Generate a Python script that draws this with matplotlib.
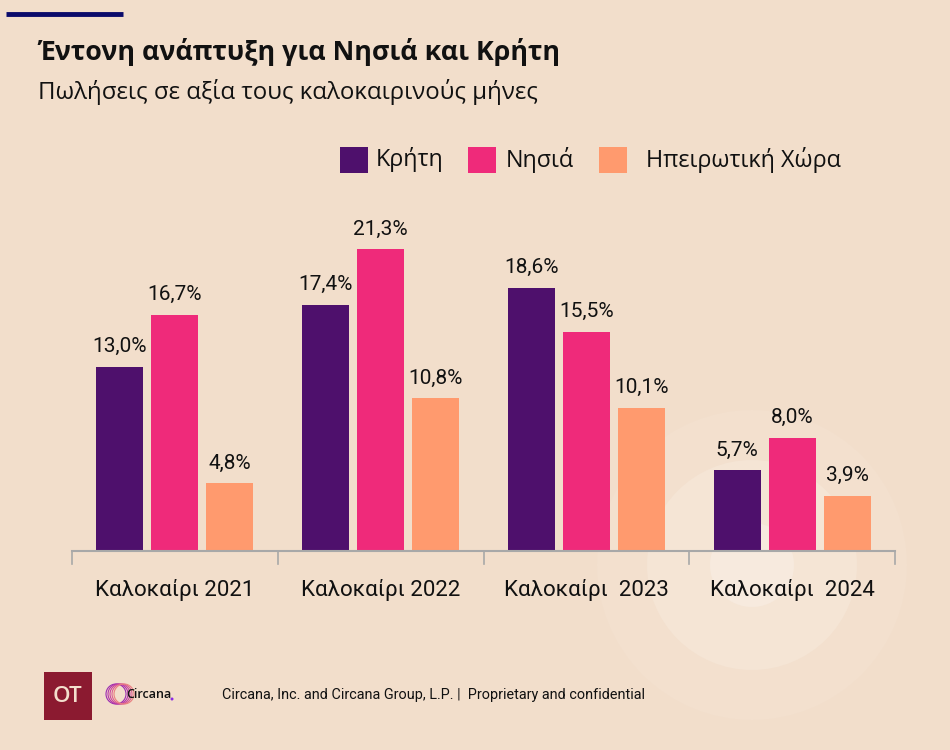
import numpy as np
import matplotlib.pyplot as plt
from matplotlib.patches import Rectangle, Circle

categories = ['Καλοκαίρι 2021', 'Καλοκαίρι 2022', 'Καλοκαίρι  2023', 'Καλοκαίρι  2024']
series = ['Κρήτη', 'Νησιά', 'Ηπειρωτική Χώρα']
kriti = [13.0, 17.4, 18.6, 5.7]
nisia = [16.7, 21.3, 15.5, 8.0]
ipeiros = [4.8, 10.8, 10.1, 3.9]
colors = ['#4E106C', '#EF2A7A', '#FF9A6E']

bg = '#F2DECB'
fig = plt.figure(figsize=(9.5, 7.5), dpi=100)
fig.patch.set_facecolor(bg)

# background layer in pixel coords (decor, header, legend, footer)
bgax = fig.add_axes([0, 0, 1, 1], zorder=0)
bgax.set_xlim(0, 950)
bgax.set_ylim(750, 0)
bgax.axis('off')

# faint decorative circles bottom right
for r, c in [(155, '#F3E0CE'), (105, '#F5E5D5'), (42, '#F7EADE')]:
    bgax.add_patch(Circle((752, 565), r, facecolor=c, edgecolor='none'))

ax = fig.add_axes([72 / 950, 1 - 551 / 750, 823 / 950, 354 / 750], zorder=1)
ax.set_facecolor('none')

x = np.arange(len(categories))
w = 0.228
off = 0.267
for i, (vals, col) in enumerate(zip([kriti, nisia, ipeiros], colors)):
    bars = ax.bar(x + (i - 1) * off, vals, width=w, color=col, label=series[i], zorder=2)
    for b, v in zip(bars, vals):
        ax.text(b.get_x() + b.get_width() / 2, v + 0.75, f'{v:.1f}%'.replace('.', ','),
                ha='center', va='bottom', fontsize=15, family='Roboto', color='#111111')

ax.set_xlim(-0.5, 3.5)
ax.set_ylim(0, 25)
ax.set_yticks([])
for s in ['left', 'right', 'top']:
    ax.spines[s].set_visible(False)
ax.spines['bottom'].set_color('#A8A8A8')
ax.spines['bottom'].set_linewidth(1.5)
ax.set_xticks([])
for t in np.arange(-0.5, 4.0, 1.0):
    ax.plot([t, t], [0, -0.95], color='#A8A8A8', lw=1.2, clip_on=False)
for xi, lab in zip(x, categories):
    ax.text(xi, -2.75, lab, ha='center', va='center', fontsize=16,
            family='Roboto', color='#111111')

# legend
for (sx, tx), name, col in zip([(340, 376), (468, 506), (599, 646)], series, colors):
    bgax.add_patch(Rectangle((sx, 147), 28, 26, facecolor=col, edgecolor='none'))
    bgax.text(tx, 160, name, fontsize=16.8, va='center', family='Open Sans', color='#111111')

# header
bgax.plot([6, 123], [14, 14], color='#0B0B6B', lw=3.5, solid_capstyle='butt')
bgax.text(38, 52, 'Έντονη ανάπτυξη για Νησιά και Κρήτη', fontsize=19.3,
          fontweight='bold', va='center', family='Open Sans', color='#111111')
bgax.text(38, 92, 'Πωλήσεις σε αξία τους καλοκαιρινούς μήνες', fontsize=17.3,
          va='center', family='Open Sans', color='#111111')

# footer
bgax.add_patch(Rectangle((44, 672), 48, 48, facecolor='#8B1A30', edgecolor='none'))
bgax.text(68, 697, 'OT', fontsize=16, ha='center', va='center',
          color='#F3DFCD', family='Open Sans', fontweight='semibold')
ring_cols = ['#9A2AB0', '#B232A8', '#C8449C', '#DA5E90', '#EA8080']
for k, rc in enumerate(ring_cols):
    bgax.add_patch(Circle((116 + k * 2.0, 694), 10, facecolor='none', edgecolor=rc, lw=0.8))
bgax.text(126, 694, 'Circana', fontsize=9, va='center', family='Open Sans',
          fontweight='semibold', color='#111111')
bgax.add_patch(Circle((172, 699), 1.5, facecolor='#8A2BE2', edgecolor='none'))
bgax.text(222, 695, 'Circana, Inc. and Circana Group, L.P. |  Proprietary and confidential',
          fontsize=10.4, va='center', family='Roboto', color='#111111')

fig.savefig('out.png', dpi=100, facecolor=bg)
